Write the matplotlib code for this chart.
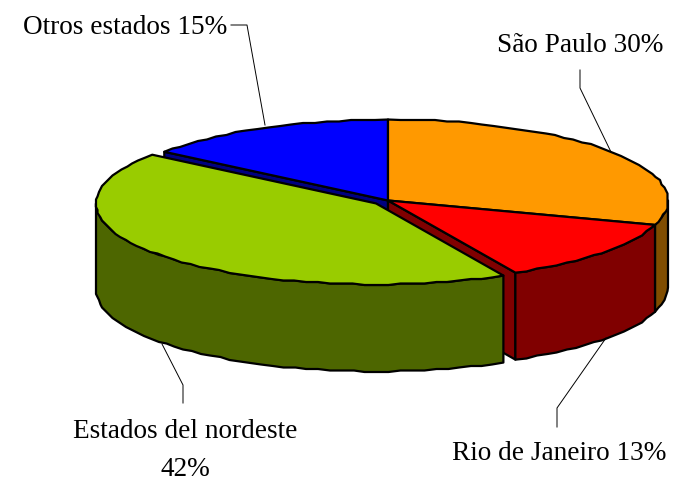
import numpy as np
import matplotlib
matplotlib.use("Agg")
import matplotlib.pyplot as plt
from matplotlib.patches import Polygon

categories = ["São Paulo", "Rio de Janeiro", "Estados del nordeste", "Otros estados"]
values = [29.6, 12.5, 42.4, 14.6]
top_colors = ["#FF9900", "#FF0000", "#99CC00", "#0000FF"]
side_colors = ["#804D00", "#800000", "#4D6600", "#000080"]
explode = [0, 0, 0.056, 0]

CX, CY, A, B, DEPTH = 388, 200.5, 280, 81, 87
LW = 1.6
GRID = 1.5
W, H = 675, 482

fig = plt.figure(figsize=(W / 100, H / 100), dpi=100)
ax = fig.add_axes([0, 0, 1, 1])
ax.set_xlim(0, W)
ax.set_ylim(H, 0)
ax.axis("off")

fractions = np.array(values) / sum(values)
ends = np.cumsum(fractions) * 2 * np.pi
starts = ends - fractions * 2 * np.pi


def centre(i):
    mid = (starts[i] + ends[i]) / 2
    return (CX + explode[i] * A * np.sin(mid), CY - explode[i] * B * np.cos(mid))


def rim(i, t0, t1):
    n = max(2, int(abs(t1 - t0) * 24))
    t = np.linspace(t0, t1, n)
    cx, cy = centre(i)
    pts = np.column_stack([cx + A * np.sin(t), cy - B * np.cos(t)])
    # the outline of the reference is slightly stepped
    pts[1:-1] = np.round(pts[1:-1] / GRID) * GRID
    return pts


def poly(pts, color, z):
    ax.add_patch(Polygon(pts, closed=True, facecolor=color, edgecolor="black",
                         linewidth=LW, joinstyle="round", zorder=z))


def radial_face(i, t, z):
    cx, cy = centre(i)
    p = rim(i, t, t)[0]
    poly([(cx, cy), tuple(p), (p[0], p[1] + DEPTH), (cx, cy + DEPTH)], side_colors[i], z)


def outer_face(i, t0, t1, z):
    r = rim(i, t0, t1)
    low = r[::-1] + np.array([0, DEPTH])
    poly(np.vstack([r, low]), side_colors[i], z)


def top(i, z):
    poly(np.vstack([[centre(i)], rim(i, starts[i], ends[i])]), top_colors[i], z)


def pct(v):
    return f"{int(v + 0.5)}%"


# main pie (unexploded slices)
radial_face(3, starts[3], 1)
radial_face(1, ends[1], 1)
outer_face(0, np.pi / 2, ends[0], 2)
outer_face(1, starts[1], ends[1], 2)
top(3, 3)
top(0, 3)
top(1, 3)
# exploded slice
outer_face(2, starts[2], 3 * np.pi / 2, 4)
top(2, 5)

# labels and leaders
FS = 19.6
text_kw = dict(family="Liberation Serif", fontsize=FS, color="black", zorder=7,
               ha="center", va="center")
ax.text(580, 45, f"{categories[0]} {pct(values[0])}", **text_kw)
ax.text(559, 453, f"{categories[1]} {pct(values[1])}", **text_kw)
ax.text(185, 432, categories[2], **text_kw)
ax.text(185, 470, pct(values[2]), **text_kw)
ax.text(125, 27, f"{categories[3]} {pct(values[3])}", **text_kw)

lead = dict(color="black", lw=0.7, zorder=6)
ax.plot([231, 247, 265], [25, 25, 125], **lead)
ax.plot([580, 580, 611], [70, 88, 152], **lead)
ax.plot([557, 557, 606], [427, 408, 338], **lead)
ax.plot([183, 183, 162], [403, 385, 344], **lead)

fig.savefig("out.png", dpi=100)
